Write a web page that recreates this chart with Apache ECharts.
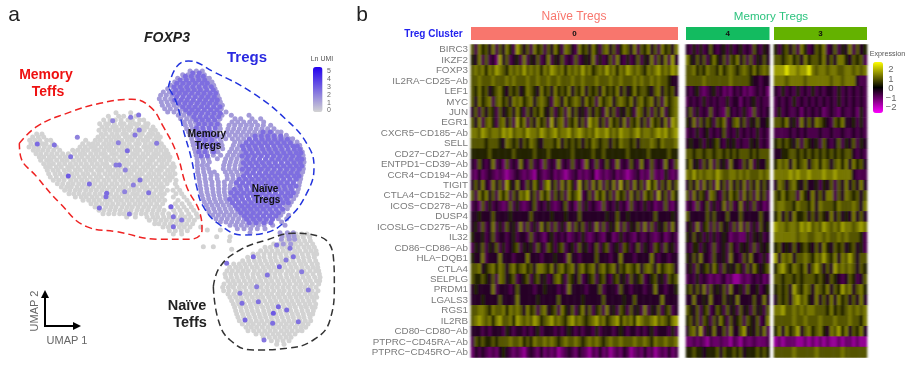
<!DOCTYPE html>
<html><head><meta charset="utf-8">
<script src="https://cdn.jsdelivr.net/npm/echarts@6/dist/echarts.min.js"></script>
<style>html,body{margin:0;padding:0;background:#fff}
#c{position:absolute;left:0;top:0;width:907px;height:383px;filter:blur(0.45px)}
#h{position:absolute;left:0;top:0;width:907px;height:383px;filter:url(#streak)}</style>
</head><body>
<svg width="0" height="0" style="position:absolute"><filter id="streak" x="0" y="0" width="100%" height="100%"><feGaussianBlur stdDeviation="1.1 0.5"/></filter></svg>
<div id="c"></div><div id="h"></div>
<script>
const genes=["BIRC3","IKZF2","FOXP3","IL2RA−CD25−Ab","LEF1","MYC","JUN","EGR1","CXCR5−CD185−Ab","SELL","CD27−CD27−Ab","ENTPD1−CD39−Ab","CCR4−CD194−Ab","TIGIT","CTLA4−CD152−Ab","ICOS−CD278−Ab","DUSP4","ICOSLG−CD275−Ab","IL32","CD86−CD86−Ab","HLA−DQB1","CTLA4","SELPLG","PRDM1","LGALS3","RGS1","IL2RB","CD80−CD80−Ab","PTPRC−CD45RA−Ab","PTPRC−CD45RO−Ab"];
const clusterNames=["0","4","3"];
// each digit is one estimated expression level, looked up in codeValues
const codeValues=[-2.2,-1.5,-1.05,-0.75,-0.35,0.4,0.95,1.3,1.7,2.4];
const cluster0Rows=[
"63756 47364 75386 46375 63647 53764 37564 75367 46357 64736 57463 75647",
"54736 34284 63453 73546 34735 46343 63454 73534 63743 53463 54736 47384",
"67675 76876 57676 86767 57687 67576 76867 56768 67576 87676 57678 67687",
"66766 67666 76766 67667 66766 76667 66766 67666 76676 66767 66767 66544",
"65756 45675 46564 57654 75647 56574 65746 56475 65746 45756 65467 46564",
"64756 73675 64767 56746 76537 64756 76475 63756 74676 57467 56746 37567",
"46364 65364 56475 36465 75463 56374 64536 46537 46354 65376 46364 73567",
"64736 75367 46385 73647 56384 67365 74638 67463 75647 36574 63756 47387",
"77687 67768 78677 68776 87678 67786 78767 68778 67687 76786 77678 78678",
"66665 66654 76564 65765 46665 74656 56465 76566 46576 65646 66765 76667",
"55555 65555 55655 55565 55655 55556 55555 65565 55555 65555 56555 55655",
"43643 47342 63437 43634 26343 73436 34274 36346 43734 36437 43634 37436",
"32423 43232 12343 23214 32342 32123 42323 41232 34232 12342 32623 25323",
"46474 37463 85474 36475 36846 37475 38463 74736 47384 63746 38573 64746",
"63757 46375 73647 68463 75736 46375 68346 37574 63756 37463 75638 46375",
"34263 53432 36353 23463 43532 34634 26353 43263 43534 26343 53423 36324",
"44544 46444 45444 44644 44454 44544 46444 44445 44644 54444 44464 44454",
"45363 47353 64537 36353 74636 35373 64635 37363 54736 35463 73635 46374",
"54453 46344 34534 43634 32453 43423 43532 34324 42353 43243 34323 42343",
"35463 54635 34563 54536 43653 56345 36453 46356 34536 53463 54365 36453",
"54473 44474 44344 47444 34445 44374 43444 46444 34474 44344 44743 44344",
"66745 67576 46756 75647 76574 67567 46756 74675 67465 76574 67647 56764",
"65565 46376 45634 56356 45346 75365 46345 63564 35645 36456 34564 53656",
"45444 47344 43464 44434 45444 34374 44434 44634 44364 43444 34474 43445",
"44454 44464 44474 44445 44444 64444 44544 44464 44445 44644 44444 74444",
"66776 57667 57676 47563 67456 37546 35746 35637 45365 36453 73546 35634",
"67876 75786 67587 67687 56786 76578 67656 78675 67857 67587 66786 76578",
"44434 34443 54344 34345 34443 43454 34344 35344 43454 34434 34534 44353",
"36565 56566 67667 56576 67676 56766 76567 67656 76676 66766 76576 67667",
"24343 23245 43232 13432 42323 12343 24321 32423 12324 31232 42312 32423"];
const cluster4Rows=[
"43535 34643 45353 45343 64354","75464 63575 46365 74636 35464","66756 57665 75676 56765 75676",
"66666 76666 66676 66665 44344","43453 23453 42324 34232 34342","34343 53434 33534 42434 53433",
"46353 43634 32643 43532 63434","54736 46536 57346 74635 46445","34353 45343 46343 53434 35343",
"45445 35456 43545 34335 45343","66566 56656 65656 56665 65666","57453 64736 45374 43647 35446",
"76867 67768 76677 67676 66767","46473 74638 46374 64736 47464","63746 53764 36475 63746 37463",
"34263 46353 47363 47353 63423","64444 46464 44644 46444 44644","45373 56363 64536 37363 53645",
"54645 35353 45423 32253 54534","43553 54363 45364 35453 63545","54647 44364 45374 43647 44353",
"45364 56475 36454 65364 75456","34353 43232 34231 12323 43423","56464 73645 46374 45364 45345",
"44744 54744 46454 74444 64474","65463 56346 53645 36453 64536","56463 65364 75364 56365 46347",
"46748 35474 46374 46845 46473","22323 21322 32213 21322 32223","55655 45556 46556 56455 56565"];
const cluster3Rows=[
"53564 63753 46573 46354 73645","66567 56475 66574 64775 46563","88898 87889 76776 77667 76767",
"77767 77767 77777 67767 77433","43534 35343 53434 43534 34343","34343 53434 34343 43534 34343",
"35343 34243 43423 43243 34253","66574 53746 47654 36574 45353","33334 34343 33433 43343 34343",
"56565 46365 45364 34635 46354","44556 65656 56565 65656 64343","57674 75674 67576 46757 47564",
"77778 78778 77787 78777 74333","47646 75464 45354 63647 46474","65756 63754 74647 73647 65646",
"67766 57665 74766 65766 67647","57464 75564 64654 74645 47464","87767 76878 67687 67687 76787",
"77777 76776 67767 66767 66653","56454 64565 46475 46564 56453","84767 46676 57686 57476 86466",
"57865 76574 68646 48676 76465","66566 56566 65654 65434 65346","56564 86576 47657 46586 74675",
"46564 78675 47464 74756 46474","77866 76767 76665 75656 76767","66666 76676 66766 67666 76657",
"57475 68467 56754 76857 46574","12122 21121 21212 11212 21211","66666 76666 67666 66676 66666"];

// UMAP points, one row per reading line: [y, x, x, ...] in reading units
const grayMemoryRows=[
[338,348,392],[349,325,356,371,408],[360,311,330,346,363,384,397,419,431],
[371,299,317,326,343,361,372,391,404,416,437,444],[381,306,321,338,349,366,382,393,411,428,441,459],
[391,297,314,329,345,357,373,388,406,420,433,452,466],[402,110,126,304,318,336,351,368,379,398,414,427,446,458,473],
[411,98,115,131,294,309,327,342,356,376,389,403,421,439,451,468,481],[421,89,104,119,140,152,257,286,301,318,333,349,365,382,397,414,429,443,462,476],
[431,93,109,127,138,158,248,266,279,293,311,326,341,360,372,388,407,418,436,452,467,484],
[441,87,102,116,133,149,169,240,256,272,286,303,319,332,349,366,381,396,412,431,445,459,476,491],
[451,100,113,128,144,161,179,218,233,249,263,281,295,312,327,341,358,372,389,406,419,438,452,468,483,499],
[461,108,122,139,155,171,188,205,224,241,254,272,288,303,316,335,349,366,380,398,412,429,444,461,475,492,504],
[471,118,131,148,162,180,196,212,231,246,263,279,294,311,325,342,359,371,390,405,421,436,454,467,484,498,510],
[481,122,140,153,170,187,201,220,236,253,270,284,302,319,333,348,367,381,396,414,428,446,458,477,491,507],
[491,131,146,160,178,194,211,227,243,259,276,292,308,320,341,357,373,387,405,420,437,451,468,486,501,519],
[501,137,151,169,184,203,217,234,252,266,283,299,316,329,347,363,379,397,411,429,444,460,479,493,512,523],
[511,142,159,174,193,208,226,241,259,274,293,306,324,338,355,372,388,403,420,436,453,470,484,503,518],
[521,146,165,180,197,216,231,249,263,281,297,315,330,347,362,380,394,412,427,446,461,477,495,510,525],
[531,151,169,187,203,221,238,254,271,289,303,322,338,353,371,387,404,418,437,452,469,485,503,517],
[541,160,176,192,212,228,245,261,279,294,312,327,345,362,378,396,410,428,443,460,476,494,509,528],
[551,172,188,205,219,236,252,270,285,303,318,336,351,369,385,402,419,434,452,468,484,501,526],
[561,184,200,214,231,247,263,279,296,311,328,344,361,376,394,409,427,441,459,476,490,531],
[571,194,209,226,240,257,273,289,306,321,338,355,370,387,403,418,436,450,468,484,502,519,539],
[581,207,221,237,253,268,285,300,318,332,349,366,381,398,412,429,446,461,479,493,528,545],
[591,226,244,259,276,291,309,325,341,356,374,389,406,422,438,455,470,486,520,552],
[601,249,266,282,298,316,331,349,364,381,397,414,429,447,462,478,494,534,561],
[611,273,289,306,322,338,355,371,388,405,420,437,453,470,488,526,546,568],
[621,285,299,317,333,348,366,382,397,414,431,446,464,479,511,533,552,574],
[631,297,312,329,345,361,378,393,411,426,443,459,476,492,521,540,560,581],
[641,309,326,342,359,372,391,407,424,438,456,471,488,506,526,545,566,589],
[651,380,406,441,459,473,491,508,523,541,555,572,593],[661,448,466,483,499,516,533,549,566,583],
[671,464,477,494,511,528,544,560,578],[681,489,505,520,538,553,570,602],[692,508,526,544,562],[702,520,545],
[690,622,661],[710,650,690],[722,688],[740,610,640],[748,695]];
const grayNaiveRows=[
[702,868,888,905,921],[712,860,875,893,910,929],[722,846,862,880,897,914,931],[732,821,838,855,872,886,903,920,938],
[742,795,811,829,846,861,878,894,912,927,943],[752,782,799,816,833,850,866,884,899,917,933,948],
[762,759,774,792,809,826,841,858,875,890,907,924,941,950],[772,743,760,777,792,810,825,843,860,876,893,910,926,943],
[782,728,746,763,779,796,813,829,846,862,879,897,912,929,947],[792,701,718,734,750,768,784,801,817,835,851,868,884,902,917,936,952],
[802,689,707,722,739,757,772,790,806,822,840,855,873,889,906,923,939,953],[812,681,697,714,730,745,763,780,795,813,830,845,863,878,896,912,930,947,956],
[822,675,692,708,725,741,759,774,791,808,824,840,858,873,890,907,921,939,958],[832,677,694,711,728,744,760,778,794,810,826,843,860,877,892,909,926,944,960],
[842,684,700,716,733,750,766,782,799,815,833,849,866,882,898,916,931,949,959],[852,672,690,705,722,739,755,772,788,805,821,837,854,870,888,903,920,937,956],
[862,668,685,700,718,733,751,766,783,800,816,832,849,865,882,899,914,931,948],[872,671,687,706,721,738,756,772,789,804,821,838,853,870,887,903,919,936,954],
[882,684,701,717,735,749,767,783,800,815,833,848,866,882,897,915,931,947],[892,690,707,723,740,757,773,788,806,822,838,855,871,888,904,921,937,950],
[902,695,713,728,746,762,778,794,811,827,844,860,876,893,909,926,942],[912,700,716,733,751,767,782,800,816,832,849,866,881,898,915,930,947],
[922,704,722,738,754,771,788,804,820,837,853,870,886,904,919,936,945],[932,707,724,741,757,773,791,807,823,840,857,872,889,906,923,940],
[942,710,728,744,761,778,794,810,827,843,860,877,893,910,927,938],[952,714,731,748,765,781,797,814,830,847,864,880,897,912,930],
[962,718,736,752,769,785,802,817,834,851,867,883,900,916,932],[972,727,745,760,777,793,810,826,843,859,875,892,908,924],
[982,738,754,770,787,804,820,836,853,869,886,903,917],[992,744,761,777,794,810,826,844,860,876,893,906],
[1002,768,786,802,819,835,852,868,885],[1012,790,808,825,841,858,873],[1022,814,832,849,867],[1033,830,852]];
const tregLowRows=[
[213,570,589,607],[224,548,564,581,597,613],[235,533,551,566,585,602,619,628],[246,524,541,558,575,591,608,625,636],
[256,512,530,546,563,581,597,614,630,641],[266,503,520,537,553,571,587,604,621,638,645],[276,490,508,527,543,560,577,594,610,627,650],
[286,482,499,516,533,550,567,583,601,617,634,653],[296,478,495,512,528,546,563,579,597,613,631,648,658],[306,484,501,518,535,551,569,585,602,619,636,661],
[316,487,505,522,539,556,572,590,606,623,640,657,667],[326,494,511,529,547,563,580,596,613,630,647,664],[336,503,522,540,556,573,590,607,623,641,658,678],
[346,535,551,568,584,601,618,634,651,666,694,747],[356,542,560,576,593,610,627,643,660,705,722,756,782],[366,553,570,586,603,620,637,654,696,713,731,749,766,791],
[376,556,573,590,607,624,641,659,687,704,722,739,755,773,790,812],[386,560,577,594,611,628,645,661,684,701,718,735,752,769,786,803,822],
[396,566,583,600,617,634,651,680,696,713,730,747,764,781,798,815,833,843],[406,570,587,604,621,638,655,671,688,706,723,740,757,774,791,808,825,842,859],
[416,575,592,609,626,643,660,677,697,714,731,748,765,782,799,816,833,850,867,878],[426,578,595,612,629,646,663,704,721,738,755,772,789,806,823,840,857,874,891],
[436,580,598,614,632,649,666,700,718,735,752,769,786,803,820,837,854,871,888,899],[446,583,600,617,634,651,668,695,712,729,746,763,780,797,814,831,848,865,882,902],
[456,586,603,620,637,654,689,706,723,740,757,774,791,808,825,842,859,876,893,907],[466,588,605,622,640,662,683,700,717,734,751,768,785,802,819,836,853,870,887,909],
[476,591,608,625,652,677,694,711,728,745,762,779,796,813,830,847,864,881,898,911],[486,592,610,628,674,691,708,725,742,759,776,793,810,827,844,861,878,895,912],
[496,592,607,622,671,688,705,722,739,756,773,790,807,824,841,858,875,892,909],[506,593,610,626,670,687,704,721,738,755,772,789,806,823,840,857,874,891,910],
[516,593,611,629,643,676,693,710,727,744,761,778,795,812,829,846,863,880,897,908],[526,596,614,633,651,681,698,715,732,749,766,783,800,817,834,851,868,885,903],
[536,597,615,632,652,682,699,716,733,750,767,784,801,818,835,852,869,886,902],[546,599,617,636,655,673,694,711,728,745,762,779,796,813,830,847,864,881,899],
[556,600,618,636,655,674,691,708,725,742,759,776,793,810,827,844,861,878,897],[566,602,620,638,656,673,690,707,724,741,758,775,792,809,826,843,860,877,895],
[576,603,621,639,656,673,690,707,724,741,758,775,792,809,826,843,860,877,892],[586,606,624,641,658,675,692,709,726,743,760,777,794,811,828,845,862,888],
[596,609,626,643,660,677,694,711,728,745,762,779,796,813,830,847,864,881],[606,613,630,647,664,681,698,715,732,749,766,783,800,817,834,851,874],
[616,619,636,653,670,687,704,721,738,755,772,789,806,823,840,857,868],[626,624,641,658,675,692,709,726,743,760,777,794,811,828,845,862],
[636,627,645,662,679,696,713,730,747,764,781,798,815,832,849],[646,638,655,672,689,706,723,740,757,774,791,808,825,842,866],
[656,648,665,682,699,716,733,750,767,784,801,818,835,860],[666,661,678,695,712,729,746,763,780,797,814,845],
[676,690,707,724,741,758,775,792,818,855],[686,712,732,752,772,795],[698,750,840,862,880],[708,846,866,882],[718,844,868,884],[732,850,872]];
const tregHighRows=[
[219,578,598],[229,556,574,594,610],[240,540,559,578,596,614],[250,530,549,567,586,606,622],[260,522,541,560,578,597,616,634],
[270,527,546,564,583,601,620,640],[280,519,538,556,575,594,612,631,647],[290,530,549,567,586,605,624,643],[300,524,543,561,580,599,617,636,652],
[310,536,555,573,592,611,629,648],[320,548,567,585,604,622,641,660],[330,557,576,594,613,632,651],[340,568,587,605,624,642,661],
[350,581,600,618,637,656],[360,588,607,625,644],[372,596,614,633,652],[384,589,608,627,646],[396,596,614,632],[408,590,610,629,650],
[420,598,617,636],[432,593,612,632,652],[444,598,617,636],[456,596,615,641],[468,603,622],
[396,789,811],[408,765,784,803,822,842],[418,748,767,786,805,824,843,862],[428,738,757,776,795,814,833,852,871],
[438,727,746,765,784,803,822,841,860,879,892],[448,731,750,769,788,807,826,845,864,883,899],[458,737,756,775,794,813,832,851,870,889,903],
[468,726,745,764,783,802,821,840,859,878,897],[478,740,759,778,797,816,835,854,873,892,906],[488,730,749,768,787,806,825,844,863,882,901],
[498,737,756,775,794,813,832,851,870,889,905],[508,727,746,765,784,803,822,841,860,879,898],[518,740,759,778,797,816,835,854,873,892],
[528,730,749,768,787,806,825,844,863,882,897],[538,718,737,756,775,794,813,832,851,870,889],[548,709,728,747,766,785,804,823,842,861,880],
[558,719,738,757,776,795,814,833,852,871,888],[568,703,722,741,760,779,798,817,836,855,874],[578,693,712,731,750,769,788,807,826,845,864,880],
[588,703,722,741,760,779,798,817,836,855,872],[598,689,708,727,746,765,784,803,822,841,860],[608,697,716,735,754,773,792,811,830,849,865],
[618,706,725,744,763,782,801,820,839],[628,714,733,752,771,790,809,828,848],[638,722,741,760,779,798,817,836],[648,733,752,771,790,809,828],
[658,740,760,779,798,817],[668,748,768,792,812]];
// isolated FOXP3-positive cells inside the Teff clouds and their expression
const sparseX=[112,163,205,232,268,338,392,355,382,405,418,416,376,358,320,348,212,298,318,374,388,446,513,520,545,520,400,470,420,760,680,880,838,802,770,720,726,735,775,820,860,895,905,835,870,818,925,792,858,830];
const sparseY=[432,435,528,412,552,362,352,428,452,405,390,345,510,495,580,495,470,624,590,575,642,578,620,650,660,680,555,430,540,770,790,770,800,825,860,880,910,960,905,940,930,965,815,920,745,970,870,1020,780,735];
const sparseV=[2.6,2.4,3,2,2.5,2,2.2,2,2.6,2.3,2,2.3,2,2.4,2.6,2.2,2.4,2.6,2.5,2,2.2,2.4,2.8,2.4,2.3,2.5,2.1,2.2,2.4,2.6,2.4,2.5,2.8,2.4,2.2,2.2,2.5,2.7,2.4,3,2.6,2.4,2.2,2.7,2.4,2.5,2.2,2.3,2.2,2.4];
// region outlines
const redOutline=[[58,430],[110,380],[200,340],[300,310],[395,298],[450,320],[490,380],[530,460],[560,560],[600,640],[606,690],[570,718],[480,718],[350,695],[260,680],[180,610],[110,530],[62,470],[58,430]];
const blueOutline=[[505,262],[530,200],[565,183],[640,215],[760,280],[860,360],[920,430],[942,500],[920,580],[860,660],[790,700],[730,705],[660,675],[610,620],[590,560],[575,480],[550,390],[530,310],[505,262]];
const blackOutline=[[640,860],[660,800],[720,750],[800,720],[880,700],[960,710],[1000,770],[1003,850],[990,960],[940,1020],[860,1045],[760,1050],[690,1020],[655,960],[640,860]];
const exprTicks=["2","1","0","−1","−2"];
const umiTicks=["5","4","3","2","1","0"];

const FONT='"Liberation Sans",Arial,sans-serif';
const fromRows=(rows,v)=>rows.flatMap(r=>r.slice(1).map(x=>[x,r[0],v]));
const decode=rows=>rows.flatMap((s,r)=>s.replace(/ /g,'').split('').map((d,c)=>[c,r,codeValues[+d]]));
const heatSets=[cluster0Rows,cluster4Rows,cluster3Rows];
const heatBoxes=[[471,207],[686,83.5],[774,93]];
const grids=[{left:0,top:0,width:350,height:383}],xAxes=[{gridIndex:0,type:'value',min:0,max:1050,show:false}],yAxes=[{gridIndex:0,type:'value',min:0,max:1149,inverse:true,show:false}];
const series=[];
const pts=(name,data)=>series.push({name,type:'scatter',xAxisIndex:0,yAxisIndex:0,symbolSize:5,data,itemStyle:{opacity:1},silent:true});
pts('gray',fromRows(grayMemoryRows,0).concat(fromRows(grayNaiveRows,0)));
pts('low',fromRows(tregLowRows,1.4));
pts('high',fromRows(tregHighRows,2.5));
pts('sparse',sparseX.map((x,i)=>[x,sparseY[i],sparseV[i]]));
const scatterIdx=[0,1,2,3];
const outline=(data,color)=>series.push({type:'line',xAxisIndex:0,yAxisIndex:0,data,smooth:0.45,symbol:'none',silent:true,lineStyle:{color,width:1.5,type:[7,4]}});
outline(redOutline,'#ee2222');outline(blueOutline,'#2233dd');outline(blackOutline,'#333333');
// gene labels stay sharp on the lower layer; cells go on the streaked overlay
const hGrids=[],hX=[],hY=[],hSeries=[];
heatSets.forEach((rows,i)=>{
  const n=rows[0].replace(/ /g,'').length;
  hGrids.push({left:heatBoxes[i][0],width:heatBoxes[i][1],top:44.5,height:313});
  hX.push({gridIndex:i,type:'category',data:Array.from({length:n},(_,k)=>k),show:false});
  hY.push({gridIndex:i,type:'category',data:genes,inverse:true,show:false});
  hSeries.push({type:'heatmap',xAxisIndex:i,yAxisIndex:i,data:decode(rows),silent:true,progressive:0});
});
{const g=grids.length;
 grids.push({left:471,width:207,top:44.5,height:313});
 xAxes.push({gridIndex:g,type:'category',data:['0'],show:false});
 yAxes.push({gridIndex:g,type:'category',data:genes,inverse:true,axisLine:{show:false},axisTick:{show:false},
  axisLabel:{interval:0,margin:3,color:'#7a7a7a',fontSize:9.8,fontFamily:FONT}});}
const barColors=['#F8766D','#13BB60','#64B200'];
clusterNames.forEach((nm,i)=>{
  const g=grids.length;
  grids.push({left:heatBoxes[i][0],width:heatBoxes[i][1],top:27,height:13});
  xAxes.push({gridIndex:g,type:'category',data:[nm],show:false});
  yAxes.push({gridIndex:g,type:'value',min:0,max:1,show:false});
  series.push({type:'bar',xAxisIndex:g,yAxisIndex:g,data:[1],barWidth:'100%',silent:true,itemStyle:{color:barColors[i]},
    label:{show:true,position:'inside',formatter:nm,color:'#111',fontSize:8,fontWeight:'bold',fontFamily:FONT}});
});
const t=(text,x,y,fontSize,fill,extra)=>({type:'text',x,y,z:50,style:Object.assign({text,fontSize,fill,fontFamily:FONT,align:'center',verticalAlign:'middle'},extra||{})});
const graphic=[
 t('a',14,15,21,'#222'),t('b',362,15,21,'#222'),
 t('FOXP3',167,38,14,'#222',{fontWeight:'bold',fontStyle:'italic'}),
 t('Tregs',247,58,15,'#2a2ae0',{fontWeight:'bold'}),
 t('Memory',46,75,14,'#ee1111',{fontWeight:'bold'}),t('Teffs',48,92,14,'#ee1111',{fontWeight:'bold'}),
 t('Memory',207,134,10,'#111',{fontWeight:'bold'}),t('Tregs',208,146,10,'#111',{fontWeight:'bold'}),
 t('Naïve',265,189,10,'#111',{fontWeight:'bold'}),t('Tregs',267,200,10,'#111',{fontWeight:'bold'}),
 t('Naïve',187,306,14.5,'#222',{fontWeight:'bold'}),t('Teffs',190,323,14.5,'#222',{fontWeight:'bold'}),
 t('UMAP 1',67,341,11,'#666'),
 {type:'text',x:35,y:311,rotation:Math.PI/2,z:50,style:{text:'UMAP 2',fontSize:11,fill:'#666',fontFamily:FONT,align:'center',verticalAlign:'middle'}},
 {type:'polyline',z:50,shape:{points:[[45,295],[45,326],[76,326]]},style:{stroke:'#000',lineWidth:2,fill:null}},
 {type:'polygon',z:50,shape:{points:[[45,290],[41,298],[49,298]]},style:{fill:'#000'}},
 {type:'polygon',z:50,shape:{points:[[81,326],[73,322],[73,330]]},style:{fill:'#000'}},
 t('Ln UMI',322,59,7,'#555'),
 ...umiTicks.map((s,i)=>t(s,329,[71,79,87,95,103,110.5][i],7,'#666')),
 t('Naïve Tregs',574,17,12,'#F8766D'),t('Memory Tregs',771,17,11.6,'#2CC37E'),
 t('Treg Cluster',433.5,34,10,'#2222ee',{fontWeight:'bold'}),
 t('Expression',887.5,54,7.2,'#555'),
 ...exprTicks.map((s,i)=>t(s,891,[69,79,88,98,107][i],9.5,'#666')),
];
const expressionScale={type:'continuous',dimension:2,min:-2.63,max:2.74,text:null,calculable:false,hoverLink:false,inRange:{color:['#ff00ff','#000000','#ffff00']}};
const chart=echarts.init(document.getElementById('c'),null,{renderer:'canvas'});
chart.setOption({animation:false,backgroundColor:'#fff',grid:grids,xAxis:xAxes,yAxis:yAxes,series,graphic,tooltip:{show:false},
 visualMap:[
  {type:'continuous',seriesIndex:scatterIdx,dimension:2,min:0,max:5.2,show:true,left:313,top:67,itemWidth:9.5,itemHeight:45,padding:0,text:null,calculable:false,hoverLink:false,inRange:{color:['#d3d3d3','#2200ee']}},
  Object.assign({},expressionScale,{seriesIndex:[],show:true,left:873,top:62,itemWidth:10,itemHeight:51,padding:0})
 ]});
const heat=echarts.init(document.getElementById('h'),null,{renderer:'canvas'});
heat.setOption({animation:false,backgroundColor:'transparent',grid:hGrids,xAxis:hX,yAxis:hY,series:hSeries,tooltip:{show:false},
 visualMap:[Object.assign({},expressionScale,{seriesIndex:[0,1,2],show:false})]});
</script></body></html>
